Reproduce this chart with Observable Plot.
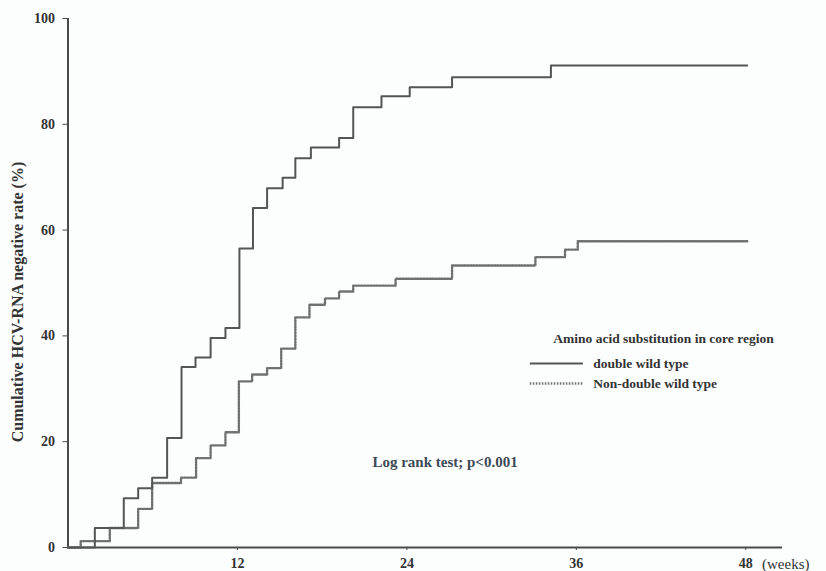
<!DOCTYPE html>
<html><head><meta charset="utf-8">
<script src="https://cdn.jsdelivr.net/npm/d3@7"></script>
<script src="https://cdn.jsdelivr.net/npm/@observablehq/plot@0.6"></script>
<style>
body{margin:0;background:#fcfdfd;}
#chart svg{display:block;overflow:visible;}
</style>
</head><body><div id="chart"></div>
<script>
// Double wild type (solid)
const weeksDWT = [0, 1.9, 3.95, 4.97, 5.96, 7.02, 8.04, 9.03, 10.1, 11.15, 12.14, 13.1, 14.1, 15.2, 16.1, 17.2, 19.2, 20.2, 22.2, 24.2, 27.2, 34.2, 48.1];
const rateDWT  = [0, 3.7, 9.3, 11.2, 13.2, 20.7, 34.1, 35.9, 39.6, 41.5, 56.5, 64.2, 67.9, 69.9, 73.6, 75.6, 77.4, 83.2, 85.3, 87.0, 88.9, 91.1, 91.1];
// Non-double wild type (dotted)
const weeksNDWT = [0, 0.9, 2.96, 4.97, 5.96, 8.0, 9.07, 10.1, 11.15, 12.1, 13.04, 14.1, 15.1, 16.1, 17.1, 18.2, 19.2, 20.2, 23.2, 27.2, 33.1, 35.2, 36.1, 48.1];
const rateNDWT  = [0, 1.2, 3.7, 7.3, 12.2, 13.2, 16.9, 19.3, 21.8, 31.4, 32.7, 33.9, 37.6, 43.5, 45.9, 47.1, 48.4, 49.5, 50.8, 53.3, 54.9, 56.3, 57.9, 57.9];

const xTicks = [12, 24, 36, 48];
const yTicks = [0, 20, 40, 60, 80, 100];
const yLabel = "Cumulative HCV-RNA negative rate (%)";
const xUnit = "(weeks)";
const legendTitle = "Amino acid substitution in core region";
const seriesNames = ["double wild type", "Non-double wild type"];
const testText = "Log rank test; p<0.001";

const dwt = weeksDWT.map((w, i) => ({week: w, rate: rateDWT[i]}));
const ndwt = weeksNDWT.map((w, i) => ({week: w, rate: rateNDWT[i]}));

const ink = "#4a4a4a";
const serif = "'Liberation Serif', 'Times New Roman', serif";
const dots = "1.5,1.5";

const chart = Plot.plot({
  width: 826, height: 571,
  marginLeft: 67.5, marginRight: 44, marginTop: 18, marginBottom: 24,
  style: {fontFamily: serif, fontWeight: "bold", fontSize: "14px", color: "#333", background: "transparent"},
  x: {domain: [0, 50.6]},
  y: {domain: [0, 100]},
  marks: [
    Plot.axisY({ticks: yTicks, tickSize: 5, tickPadding: 8, label: null, fontSize: 14, fontWeight: "bold", stroke: ink}),
    Plot.axisX({ticks: xTicks, tickSize: 3, tickPadding: 8, label: null, fontSize: 14, fontWeight: "bold", stroke: ink, tickFormat: d => d}),
    Plot.ruleX([0], {stroke: ink, strokeWidth: 2}),
    Plot.ruleY([0], {stroke: ink, strokeWidth: 2}),
    Plot.line(ndwt, {x: "week", y: "rate", curve: "step-after", stroke: "#707070", strokeWidth: 2.4, strokeDasharray: dots}),
    Plot.line(dwt, {x: "week", y: "rate", curve: "step-after", stroke: "#555", strokeWidth: 2}),
    Plot.text([yLabel], {x: -3.55, y: 46.4, rotate: -90, textAnchor: "middle", fontSize: 16, fontWeight: "bold", fill: "#333"}),
    Plot.text([xUnit], {x: 49.15, y: 0, dy: 17, textAnchor: "start", fontSize: 15, fontWeight: "normal", fill: "#333"}),
    // legend
    Plot.text([legendTitle], {x: 34.37, y: 39.5, textAnchor: "start", fontSize: 13.5, fontWeight: "bold", fill: "#333"}),
    Plot.ruleY([34.8], {x1: 32.74, x2: 36.5, stroke: "#555", strokeWidth: 2}),
    Plot.ruleY([31.0], {x1: 32.74, x2: 36.5, stroke: "#707070", strokeWidth: 2.4, strokeDasharray: dots}),
    Plot.text([seriesNames[0]], {x: 37.2, y: 34.8, textAnchor: "start", fontSize: 13.5, fontWeight: "bold", fill: "#333"}),
    Plot.text([seriesNames[1]], {x: 37.2, y: 31.0, textAnchor: "start", fontSize: 13.5, fontWeight: "bold", fill: "#333"}),
    Plot.text([testText], {x: 21.56, y: 16.1, textAnchor: "start", fontSize: 15, fontWeight: "bold", fill: "#3d4a55"})
  ]
});
document.getElementById("chart").append(chart);
</script>
</body></html>
